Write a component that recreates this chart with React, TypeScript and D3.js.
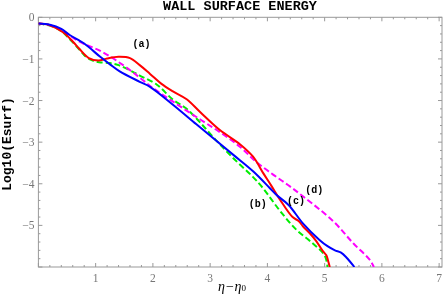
import React, { useRef, useEffect } from "react";
import * as d3 from "d3";

// curve (a) red solid
const seriesAX = [0, 0.2, 0.43, 0.6, 0.71, 0.88, 1.05, 1.2, 1.4, 1.6, 1.77, 1.95, 2.15, 2.35, 2.59, 2.82, 3.17, 3.52, 3.75, 3.93, 4.07, 4.22, 4.44, 4.55, 4.62, 4.74, 4.85, 4.96, 5.03, 5.06, 5.09];
const seriesAY = [-0.15, -0.19, -0.36, -0.58, -0.75, -0.98, -1.04, -0.99, -0.95, -0.98, -1.15, -1.36, -1.6, -1.78, -1.97, -2.27, -2.71, -3.05, -3.35, -3.75, -4.05, -4.38, -4.8, -4.9, -5.02, -5.19, -5.37, -5.6, -5.72, -5.85, -6.0];

// curve (b) green dashed
const seriesBX = [0, 0.2, 0.4, 0.53, 0.7, 0.83, 0.95, 1.06, 1.25, 1.4, 1.65, 1.77, 2.07, 2.35, 2.59, 2.82, 3.1, 3.4, 3.75, 3.92, 4.22, 4.51, 4.79, 5.0, 5.05];
const seriesBY = [-0.15, -0.2, -0.33, -0.5, -0.75, -0.95, -1.04, -1.08, -1.1, -1.15, -1.31, -1.4, -1.62, -1.98, -2.2, -2.52, -2.95, -3.38, -3.84, -4.1, -4.65, -5.11, -5.43, -5.72, -6.0];

// curve (c) blue solid
const seriesCX = [0, 0.2, 0.4, 0.54, 0.8, 1.08, 1.25, 1.42, 1.77, 1.95, 2.35, 2.76, 3.4, 3.75, 4.04, 4.16, 4.37, 4.62, 4.91, 5.05, 5.18, 5.28, 5.38, 5.52];
const seriesCY = [-0.15, -0.18, -0.28, -0.42, -0.63, -0.95, -1.13, -1.3, -1.55, -1.67, -2.1, -2.57, -3.3, -3.7, -4.1, -4.27, -4.51, -4.95, -5.35, -5.5, -5.6, -5.65, -5.77, -6.0];

// curve (d) magenta dashed
const seriesDX = [0, 0.2, 0.4, 0.71, 1.1, 1.48, 1.77, 2.0, 2.41, 2.82, 3.17, 3.52, 3.81, 4.1, 4.36, 4.62, 5.15, 5.5, 5.79, 5.86];
const seriesDY = [-0.15, -0.19, -0.3, -0.58, -0.82, -1.15, -1.45, -1.7, -2.08, -2.45, -2.76, -3.11, -3.48, -3.78, -4.03, -4.3, -4.9, -5.43, -5.83, -6.0];

const xTicks = [1, 2, 3, 4, 5, 6, 7];
const yTicks = [0, -1, -2, -3, -4, -5];

const curveLabels = ["(a)", "(b)", "(c)", "(d)"];
const labelX = [1.8, 3.83, 4.5, 4.82];
const labelY = [-0.72, -4.55, -4.49, -4.22];

const App: React.FC = () => {
  const svgRef = useRef<SVGSVGElement | null>(null);

  useEffect(() => {
    if (!svgRef.current) return;
    const left = 38.4;
    const right = 442;
    const top = 17.3;
    const bottom = 267;

    const svg = d3.select(svgRef.current);
    svg.selectAll("*").remove();

    const x = d3.scaleLinear().domain([0, 7.05]).range([left, right]);
    const y = d3.scaleLinear().domain([-6, 0]).range([bottom, top]);

    svg
      .append("defs")
      .append("clipPath")
      .attr("id", "plot-clip")
      .append("rect")
      .attr("x", left)
      .attr("y", top)
      .attr("width", right - left)
      .attr("height", bottom - top);

    const frameColor = "#999";
    const labelColor = "#777";

    // frame
    svg
      .append("rect")
      .attr("x", left)
      .attr("y", top)
      .attr("width", right - left)
      .attr("height", bottom - top)
      .attr("fill", "none")
      .attr("stroke", frameColor)
      .attr("stroke-width", 1);

    // minor + major ticks on all four sides
    const xMinor = d3.range(0, 7.05, 0.2);
    const yMinor = d3.range(-6, 0.001, 0.2);
    const ticks = svg.append("g").attr("stroke", frameColor).attr("stroke-width", 1);

    xMinor.forEach((v) => {
      const major = Math.abs(v - Math.round(v)) < 1e-6;
      const len = major ? 4 : 2;
      ticks.append("line").attr("x1", x(v)).attr("x2", x(v)).attr("y1", bottom).attr("y2", bottom - len);
      ticks.append("line").attr("x1", x(v)).attr("x2", x(v)).attr("y1", top).attr("y2", top + len);
    });
    yMinor.forEach((v) => {
      const major = Math.abs(v - Math.round(v)) < 1e-6;
      const len = major ? 4 : 2;
      ticks.append("line").attr("x1", left).attr("x2", left + len).attr("y1", y(v)).attr("y2", y(v));
      ticks.append("line").attr("x1", right).attr("x2", right - len).attr("y1", y(v)).attr("y2", y(v));
    });

    svg
      .append("g")
      .selectAll("text")
      .data(xTicks)
      .enter()
      .append("text")
      .attr("x", (d) => x(d))
      .attr("y", bottom + 15)
      .attr("text-anchor", "middle")
      .attr("font-family", "'Liberation Serif', 'DejaVu Serif', serif")
      .attr("font-size", 11.5)
      .attr("fill", labelColor)
      .text((d) => String(d));

    svg
      .append("g")
      .selectAll("text")
      .data(yTicks)
      .enter()
      .append("text")
      .attr("x", left - 4)
      .attr("y", (d) => y(d) + 4)
      .attr("text-anchor", "end")
      .attr("font-family", "'Liberation Serif', 'DejaVu Serif', serif")
      .attr("font-size", 11.5)
      .attr("fill", labelColor)
      .text((d) => (d === 0 ? "0" : "\u2212" + Math.abs(d)));

    // curves
    const series = [
      { xs: seriesAX, ys: seriesAY, color: "#ff0000", dash: null },
      { xs: seriesBX, ys: seriesBY, color: "#00ee00", dash: "6,3" },
      { xs: seriesCX, ys: seriesCY, color: "#0000ff", dash: null },
      { xs: seriesDX, ys: seriesDY, color: "#ff00ff", dash: "6,3" },
    ];

    const line = d3
      .line<[number, number]>()
      .x((d) => x(d[0]))
      .y((d) => y(d[1]))
      .curve(d3.curveCatmullRom.alpha(0.5));

    const plot = svg.append("g").attr("clip-path", "url(#plot-clip)");
    [1, 3, 0, 2].forEach((i) => {
      const s = series[i];
      const pts = s.xs.map((v, j) => [v, s.ys[j]] as [number, number]);
      const path = plot
        .append("path")
        .attr("d", line(pts) as string)
        .attr("fill", "none")
        .attr("stroke", s.color)
        .attr("stroke-width", 2)
        .attr("stroke-linejoin", "round");
      if (s.dash) path.attr("stroke-dasharray", s.dash);
    });

    // curve labels
    svg
      .append("g")
      .selectAll("text")
      .data(curveLabels)
      .enter()
      .append("text")
      .attr("x", (d, i) => x(labelX[i]))
      .attr("y", (d, i) => y(labelY[i]))
      .attr("text-anchor", "middle")
      .attr("font-family", "'Liberation Mono', 'DejaVu Sans Mono', monospace")
      .attr("font-weight", "bold")
      .attr("font-size", 10)
      .attr("fill", "#000")
      .text((d) => d);

    // title
    svg
      .append("text")
      .attr("x", 240)
      .attr("y", 9.5)
      .attr("text-anchor", "middle")
      .attr("font-family", "'Liberation Mono', 'DejaVu Sans Mono', monospace")
      .attr("font-weight", "bold")
      .attr("font-size", 13.5)
      .attr("fill", "#000")
      .text("WALL SURFACE ENERGY");

    // y label
    svg
      .append("text")
      .attr("transform", `translate(11,144) rotate(-90)`)
      .attr("text-anchor", "middle")
      .attr("font-family", "'Liberation Mono', 'DejaVu Sans Mono', monospace")
      .attr("font-weight", "bold")
      .attr("font-size", 13)
      .attr("fill", "#000")
      .text("Log10(Esurf)");

    // x label
    const xl = svg
      .append("text")
      .attr("x", 232)
      .attr("y", 291)
      .attr("text-anchor", "middle")
      .attr("font-family", "'Liberation Serif', 'DejaVu Serif', serif")
      .attr("font-style", "italic")
      .attr("font-size", 14)
      .attr("fill", "#000");
    xl.append("tspan").text("\u03b7\u2212\u03b7");
    xl.append("tspan").attr("font-size", 9).attr("font-style", "normal").text("0");
  }, []);

  return (
    <div style={{ position: "fixed", left: 0, top: 0 }}>
      <svg ref={svgRef} width={444} height={300} style={{ display: "block" }}></svg>
    </div>
  );
};

export default App;
